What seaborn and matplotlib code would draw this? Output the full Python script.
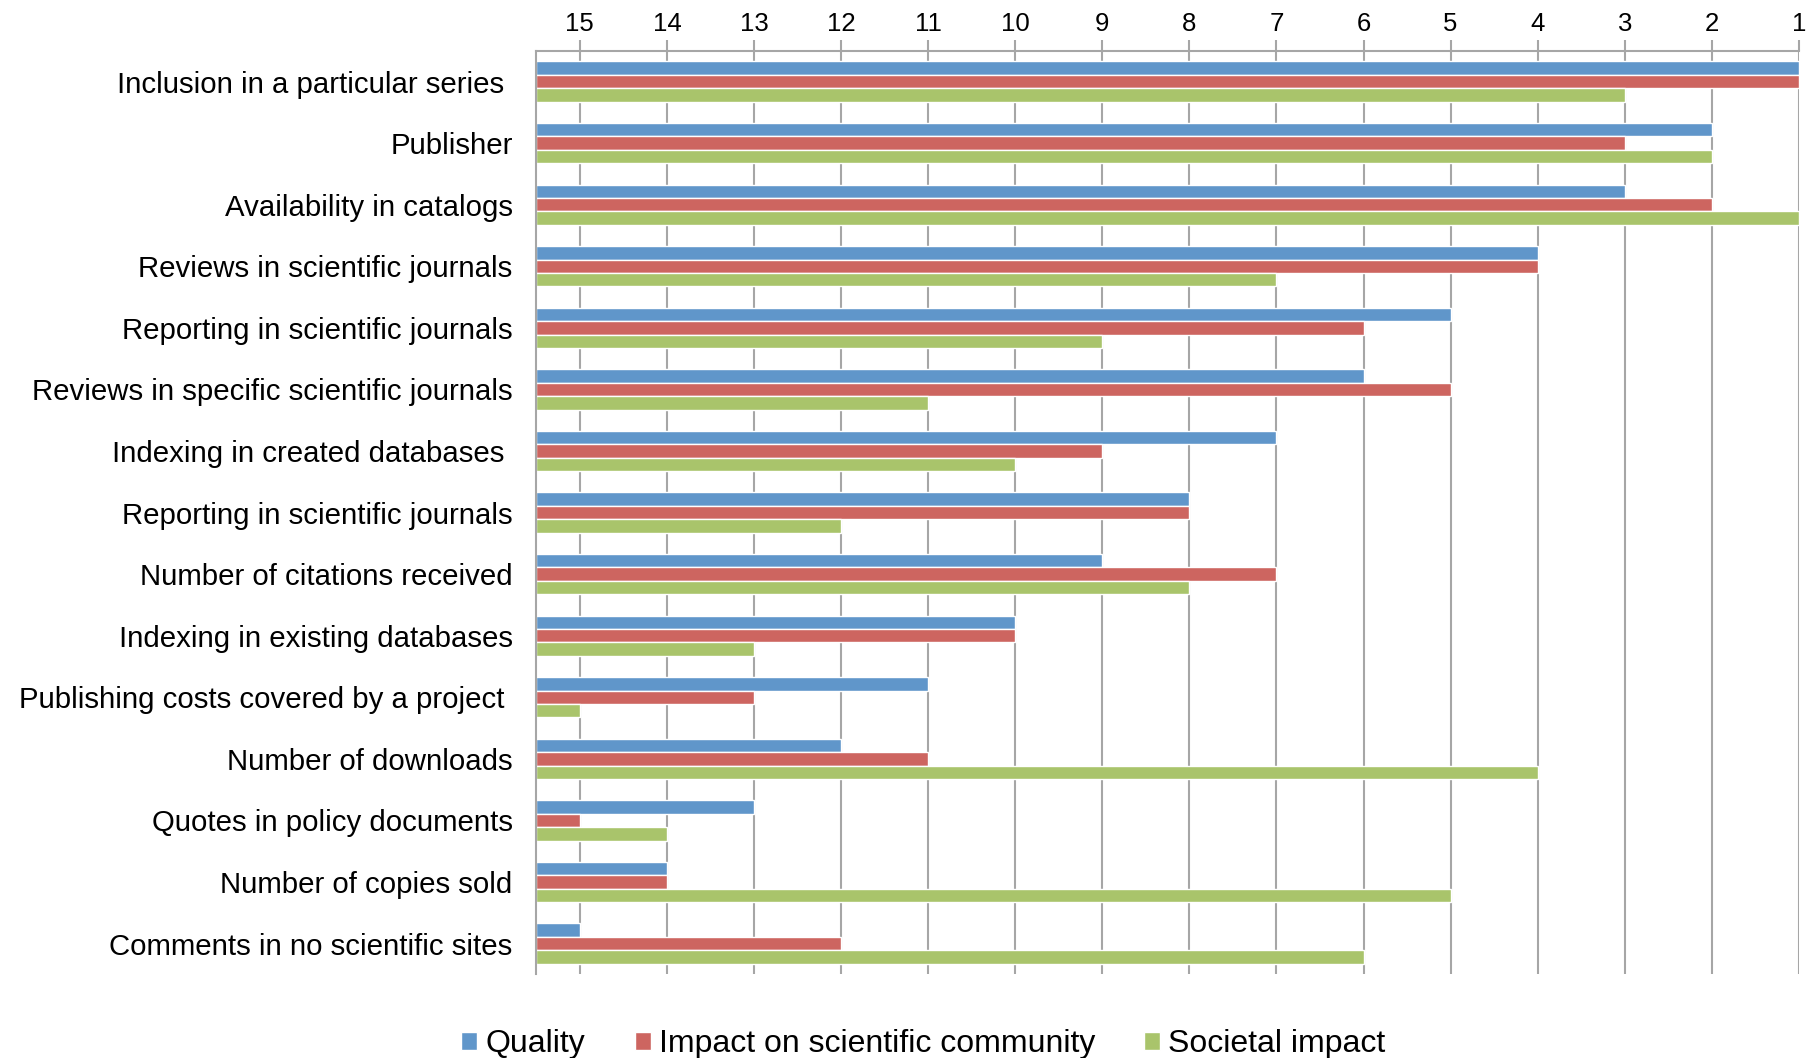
"""
Ranking of evaluation criteria for scholarly books by three dimensions
(Quality, Impact on scientific community, Societal impact).

Horizontal grouped bars; rank 15 on the left, rank 1 on the right,
rank axis drawn on top.
"""

import matplotlib.pyplot as plt
import pandas as pd
import seaborn as sns

# Data (rank, 1 = most important)
criteria = [
    "Inclusion in a particular series ",
    "Publisher",
    "Availability in catalogs",
    "Reviews in scientific journals",
    "Reporting in scientific journals",
    "Reviews in specific scientific journals",
    "Indexing in created databases ",
    "Reporting in scientific journals",
    "Number of citations received",
    "Indexing in existing databases",
    "Publishing costs covered by a project ",
    "Number of downloads",
    "Quotes in policy documents",
    "Number of copies sold",
    "Comments in no scientific sites",
]
quality = [1, 2, 3, 4, 5, 6, 7, 8, 9, 10, 11, 12, 13, 14, 15]
impact_scientific = [1, 3, 2, 4, 6, 5, 9, 8, 7, 10, 13, 11, 15, 14, 12]
societal_impact = [3, 2, 1, 7, 9, 11, 10, 12, 8, 13, 15, 4, 14, 5, 6]

series_names = ["Quality", "Impact on scientific community", "Societal impact"]
rank_ticks = list(range(15, 0, -1))

colors = ["#6096CA", "#CD6560", "#A9C46B"]
grid_color = "#A6A6A6"

# Styling
sns.set_style("white")
plt.rcParams["font.family"] = ["Liberation Sans", "DejaVu Sans"]
plt.rcParams["text.color"] = "black"
plt.rcParams["xtick.labelcolor"] = "black"
plt.rcParams["ytick.labelcolor"] = "black"

# Bars start at the left edge (rank 15.5) and run to the rank value
base = 15.5
keys = [f"c{i:02d}" for i in range(len(criteria))]
frames = []
for name, vals in zip(series_names, [quality, impact_scientific, societal_impact]):
    frames.append(pd.DataFrame({
        "key": keys,
        "length": [base - v for v in vals],
        "series": name,
    }))
df = pd.concat(frames, ignore_index=True)

fig = plt.figure(figsize=(18.18, 10.58), dpi=100)
ax = fig.add_axes([0.295, 0.079, 0.6945, 0.873])

sns.barplot(data=df, x="length", y="key", hue="series", orient="h",
            order=keys, hue_order=series_names, palette=colors,
            saturation=1, width=0.655, gap=0, ax=ax)

n = len(criteria)
ax.set_xlim(0, base - 1)
ax.set_ylim(n - 0.5, -0.5)

# Rank axis on top
ax.xaxis.tick_top()
ax.set_xticks([base - r for r in rank_ticks])
ax.set_xticklabels([str(r) for r in rank_ticks], fontsize=18.5)
ax.tick_params(axis="x", which="major", length=8, width=1.5, color=grid_color,
               pad=3, top=True, bottom=False, labelcolor="black")
ax.xaxis.grid(True, color=grid_color, linewidth=1.5)
ax.set_axisbelow(True)
ax.set_xlabel("")

# Category labels, ticks between groups
ax.set_yticks(range(n))
ax.set_yticklabels(criteria, fontsize=21.2)
ax.tick_params(axis="y", which="major", length=0, pad=17, labelcolor="black")
ax.set_yticks([i - 0.5 for i in range(n + 1)], minor=True)
ax.tick_params(axis="y", which="minor", length=9, width=1.5, color=grid_color)
ax.set_ylabel("")

for side in ["right", "bottom"]:
    ax.spines[side].set_visible(False)
for side in ["left", "top"]:
    ax.spines[side].set_color(grid_color)
    ax.spines[side].set_linewidth(1.5)

sns.move_legend(ax, "center", bbox_to_anchor=(0.508, 0.013),
                bbox_transform=fig.transFigure, ncol=3, frameon=False,
                title=None, fontsize=23, handlelength=0.5,
                handleheight=0.5, handletextpad=0.25, columnspacing=1.55)

fig.savefig("out.png", dpi=100)
